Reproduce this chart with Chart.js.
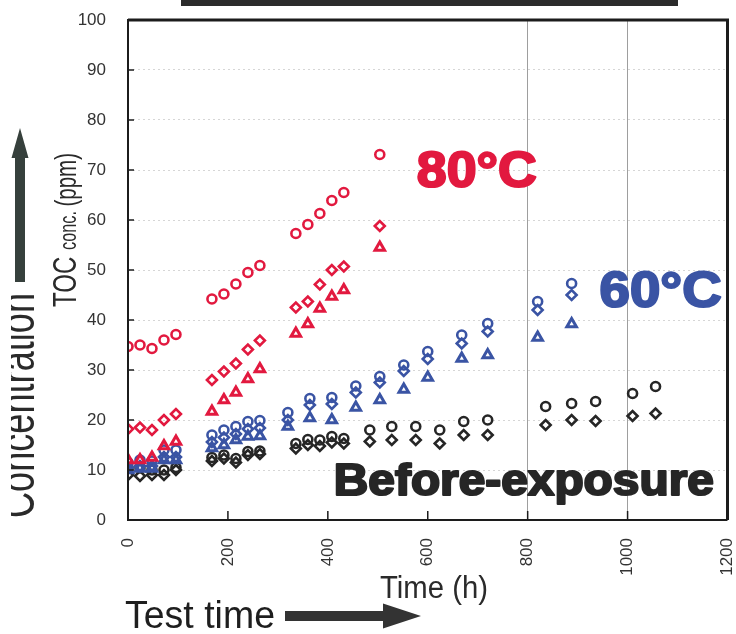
<!DOCTYPE html>
<html>
<head>
<meta charset="utf-8">
<script src="https://cdn.jsdelivr.net/npm/chart.js@4.4.1/dist/chart.umd.min.js"></script>
<style>
  html, body { margin: 0; padding: 0; background: #fff; }
  #chart { display: block; }
</style>
</head>
<body>
<canvas id="chart" width="736" height="634"></canvas>
<script>
// axis ticks
const xTicks = [0, 200, 400, 600, 800, 1000, 1200];
const yTicks = [0, 10, 20, 30, 40, 50, 60, 70, 80, 90, 100];

// 80 °C exposure
const hours80 = [0, 24, 48, 72, 96, 168, 192, 216, 240, 264, 336, 360, 384, 408, 432, 504];
const toc80a = [34.7, 35.0, 34.3, 36.0, 37.1, 44.2, 45.2, 47.2, 49.5, 50.9, 57.3, 59.1, 61.3, 63.9, 65.5, 73.1];
const toc80b = [18.2, 18.5, 18.0, 20.0, 21.2, 28.0, 29.7, 31.3, 34.1, 35.9, 42.5, 43.7, 47.1, 50.0, 50.7, 58.8];
const toc80c = [12.0, 12.0, 12.5, 14.8, 15.7, 21.7, 24.0, 25.5, 28.2, 30.2, 37.3, 39.2, 42.3, 44.7, 46.0, 54.5];

// 60 °C exposure
const hours60 = [0, 24, 48, 72, 96, 168, 192, 216, 240, 264, 320, 364, 408, 456, 504, 552, 600, 668, 720, 820, 888];
const toc60a = [11.5, 12.0, 11.8, 14.0, 14.0, 17.0, 18.0, 18.7, 19.7, 19.9, 21.5, 24.3, 24.5, 26.8, 28.7, 31.0, 33.7, 37.0, 39.3, 43.7, 47.3];
const toc60b = [10.5, 10.8, 10.8, 12.6, 12.6, 15.6, 16.5, 17.2, 18.2, 18.4, 20.0, 23.0, 23.2, 25.5, 27.5, 29.8, 32.2, 35.3, 37.7, 42.0, 45.0];
const toc60c = [10.0, 10.3, 10.3, 12.0, 12.0, 14.4, 15.0, 16.0, 16.7, 16.8, 18.7, 20.4, 20.0, 22.5, 24.0, 26.1, 28.5, 32.3, 33.0, 36.5, 39.2];

// before exposure
const hoursRef = [0, 24, 48, 72, 96, 168, 192, 216, 240, 264, 336, 360, 384, 408, 432, 484, 528, 576, 624, 672, 720, 836, 888, 936, 1010, 1056];
const tocRefA = [10.4, 10.4, 10.0, 10.0, 10.5, 12.5, 13.0, 12.3, 13.7, 13.8, 15.3, 16.1, 16.0, 16.7, 16.3, 18.0, 18.7, 18.7, 18.0, 19.7, 20.0, 22.7, 23.3, 23.7, 25.3, 26.7];
const tocRefB = [9.0, 8.8, 9.0, 9.0, 10.0, 11.8, 12.3, 11.5, 13.0, 13.2, 14.3, 15.0, 14.8, 15.5, 15.3, 15.7, 16.0, 16.0, 15.3, 17.0, 17.0, 19.0, 20.0, 19.8, 20.8, 21.3];

const RED = '#e2193f';
const BLUE = '#3a54a4';
const BLACK = '#262626';

function series(label, hours, values, color, style, radius, width) {
  return {
    label,
    data: hours.map((h, i) => ({ x: h, y: values[i] })),
    pointStyle: style,
    pointRadius: radius,
    pointBorderWidth: width,
    borderColor: color,
    backgroundColor: 'rgba(255,255,255,0)',
    showLine: false
  };
}

// squeeze text horizontally to a given width
function fitText(ctx, text, x, y, font, width) {
  ctx.font = font;
  const w = ctx.measureText(text).width;
  ctx.save();
  ctx.translate(x, y);
  ctx.scale(width / w, 1);
  ctx.textAlign = 'left';
  ctx.textBaseline = 'alphabetic';
  ctx.fillText(text, 0, 0);
  ctx.restore();
}

function heavyText(ctx, text, x, y, size, width, color) {
  ctx.save();
  ctx.font = '900 ' + size + 'px "Liberation Sans", Arial, sans-serif';
  const w = ctx.measureText(text).width;
  ctx.translate(x, y);
  ctx.scale(width / w, 1);
  ctx.fillStyle = color;
  ctx.strokeStyle = color;
  ctx.lineWidth = 2.2;
  ctx.lineJoin = 'round';
  ctx.textBaseline = 'alphabetic';
  ctx.fillText(text, 0, 0);
  ctx.strokeText(text, 0, 0);
  ctx.restore();
}

function arrow(ctx, x0, y0, x1, y1, shaft, head, headLen, color) {
  const ang = Math.atan2(y1 - y0, x1 - x0);
  const len = Math.hypot(x1 - x0, y1 - y0);
  ctx.save();
  ctx.translate(x0, y0);
  ctx.rotate(ang);
  ctx.fillStyle = color;
  ctx.beginPath();
  ctx.moveTo(0, -shaft / 2);
  ctx.lineTo(len - headLen, -shaft / 2);
  ctx.lineTo(len - headLen, -head / 2);
  ctx.lineTo(len, 0);
  ctx.lineTo(len - headLen, head / 2);
  ctx.lineTo(len - headLen, shaft / 2);
  ctx.lineTo(0, shaft / 2);
  ctx.closePath();
  ctx.fill();
  ctx.restore();
}

const decor = {
  id: 'decor',
  beforeDraw(chart) {
    const ctx = chart.ctx;
    ctx.save();
    ctx.fillStyle = '#fff';
    ctx.fillRect(0, 0, chart.width, chart.height);
    ctx.restore();
  },
  afterDraw(chart) {
    const ctx = chart.ctx;
    const { left, right, top, bottom } = chart.chartArea;
    const xs = chart.scales.x, ys = chart.scales.y;
    ctx.save();

    // plot frame
    ctx.strokeStyle = '#1c1c1c';
    ctx.lineWidth = 3;
    ctx.beginPath();
    ctx.moveTo(left, top); ctx.lineTo(right, top); ctx.lineTo(right, bottom);
    ctx.stroke();
    ctx.lineWidth = 2;
    ctx.beginPath();
    ctx.moveTo(left, top - 1); ctx.lineTo(left, bottom); ctx.lineTo(right, bottom);
    ctx.stroke();

    // inward tick marks
    ctx.lineWidth = 1.5;
    ctx.beginPath();
    yTicks.slice(1, -1).forEach(v => {
      const y = ys.getPixelForValue(v);
      ctx.moveTo(left, y); ctx.lineTo(left + 6, y);
    });
    xTicks.slice(1, -1).forEach(v => {
      const x = xs.getPixelForValue(v);
      ctx.moveTo(x, bottom); ctx.lineTo(x, bottom - 9);
    });
    ctx.stroke();

    // bottom edge of the heading box
    ctx.fillStyle = '#2b2b2b';
    ctx.fillRect(181, 0, 497, 6);

    // series labels
    heavyText(ctx, '80°C', xs.getPixelForValue(578), ys.getPixelForValue(66.6), 50, 120, RED);
    heavyText(ctx, '60°C', xs.getPixelForValue(944), ys.getPixelForValue(42.6), 50, 122, BLUE);
    heavyText(ctx, 'Before-exposure', xs.getPixelForValue(412), ys.getPixelForValue(5.0), 44, 380, BLACK);

    // y axis title
    ctx.fillStyle = '#2a2a2a';
    ctx.save();
    ctx.translate(76, 307);
    ctx.rotate(-Math.PI / 2);
    const parts = [['TOC ', 34], ['conc. ', 23], ['(ppm)', 29]];
    let total = 0;
    parts.forEach(p => {
      ctx.font = p[1] + 'px "Liberation Sans", Arial, sans-serif';
      total += ctx.measureText(p[0]).width;
    });
    ctx.scale(154 / total, 1);
    let cx = 0;
    parts.forEach(p => {
      ctx.font = p[1] + 'px "Liberation Sans", Arial, sans-serif';
      ctx.fillText(p[0], cx, 0);
      cx += ctx.measureText(p[0]).width;
    });
    ctx.restore();

    // "Concentration" with upward arrow, cut at the left edge
    ctx.save();
    ctx.beginPath();
    ctx.rect(11, 0, 60, chart.height);
    ctx.clip();
    ctx.translate(34, 518);
    ctx.rotate(-Math.PI / 2);
    fitText(ctx, 'Concentration', 0, 0, '50px "Liberation Sans", Arial, sans-serif', 225);
    ctx.restore();
    arrow(ctx, 20, 282, 20, 128, 10, 17, 30, '#36403c');

    // x axis titles
    fitText(ctx, 'Time (h)', 380, 598, '31px "Liberation Sans", Arial, sans-serif', 108);
    ctx.fillStyle = '#1e1e1e';
    fitText(ctx, 'Test time', 125, 628, '39px "Liberation Sans", Arial, sans-serif', 150);
    arrow(ctx, 285, 616, 421, 616, 10, 25, 38, '#333');

    ctx.restore();
  }
};

new Chart(document.getElementById('chart'), {
  type: 'scatter',
  data: {
    datasets: [
      series('80°C a', hours80, toc80a, RED, 'circle', 4.5, 2.6),
      series('80°C b', hours80, toc80b, RED, 'rectRot', 5, 2.6),
      series('80°C c', hours80, toc80c, RED, 'triangle', 5.5, 3),
      series('60°C a', hours60, toc60a, BLUE, 'circle', 4.5, 2.6),
      series('60°C b', hours60, toc60b, BLUE, 'rectRot', 5, 2.6),
      series('60°C c', hours60, toc60c, BLUE, 'triangle', 5.5, 3),
      series('Before a', hoursRef, tocRefA, BLACK, 'circle', 4.5, 2.6),
      series('Before b', hoursRef, tocRefB, BLACK, 'rectRot', 5, 2.6)
    ]
  },
  options: {
    responsive: false,
    animation: false,
    layout: { padding: { top: 20, right: 7, left: 0, bottom: 0 } },
    plugins: {
      legend: { display: false },
      tooltip: { enabled: false }
    },
    scales: {
      x: {
        type: 'linear',
        min: 0,
        max: 1200,
        afterBuildTicks: s => { s.ticks = xTicks.map(v => ({ value: v })); },
        afterFit: s => { s.height = 114; s.paddingLeft = 0; s.paddingRight = 0; },
        ticks: {
          minRotation: 90,
          maxRotation: 90,
          padding: 18,
          color: '#333',
          callback: v => String(v),
          font: { family: '"Liberation Sans", Arial, sans-serif', size: 17 }
        },
        grid: {
          drawTicks: false,
          lineWidth: 1,
          color: c => (c.tick && (c.tick.value === 800 || c.tick.value === 1000)) ? 'rgba(0,0,0,0.38)' : 'rgba(0,0,0,0)'
        },
        border: { display: false }
      },
      y: {
        min: 0,
        max: 100,
        afterBuildTicks: s => { s.ticks = yTicks.map(v => ({ value: v })); },
        afterFit: s => { s.width = 128; s.paddingTop = 0; s.paddingBottom = 0; },
        ticks: {
          padding: 22,
          color: '#333',
          callback: v => String(v),
          font: { family: '"Liberation Sans", Arial, sans-serif', size: 17 }
        },
        grid: {
          drawTicks: false,
          lineWidth: 1,
          color: c => (c.tick && c.tick.value > 0 && c.tick.value < 100) ? 'rgba(0,0,0,0.16)' : 'rgba(0,0,0,0)'
        },
        border: { display: false, dash: [2, 3] }
      }
    }
  },
  plugins: [decor]
});
</script>
</body>
</html>
